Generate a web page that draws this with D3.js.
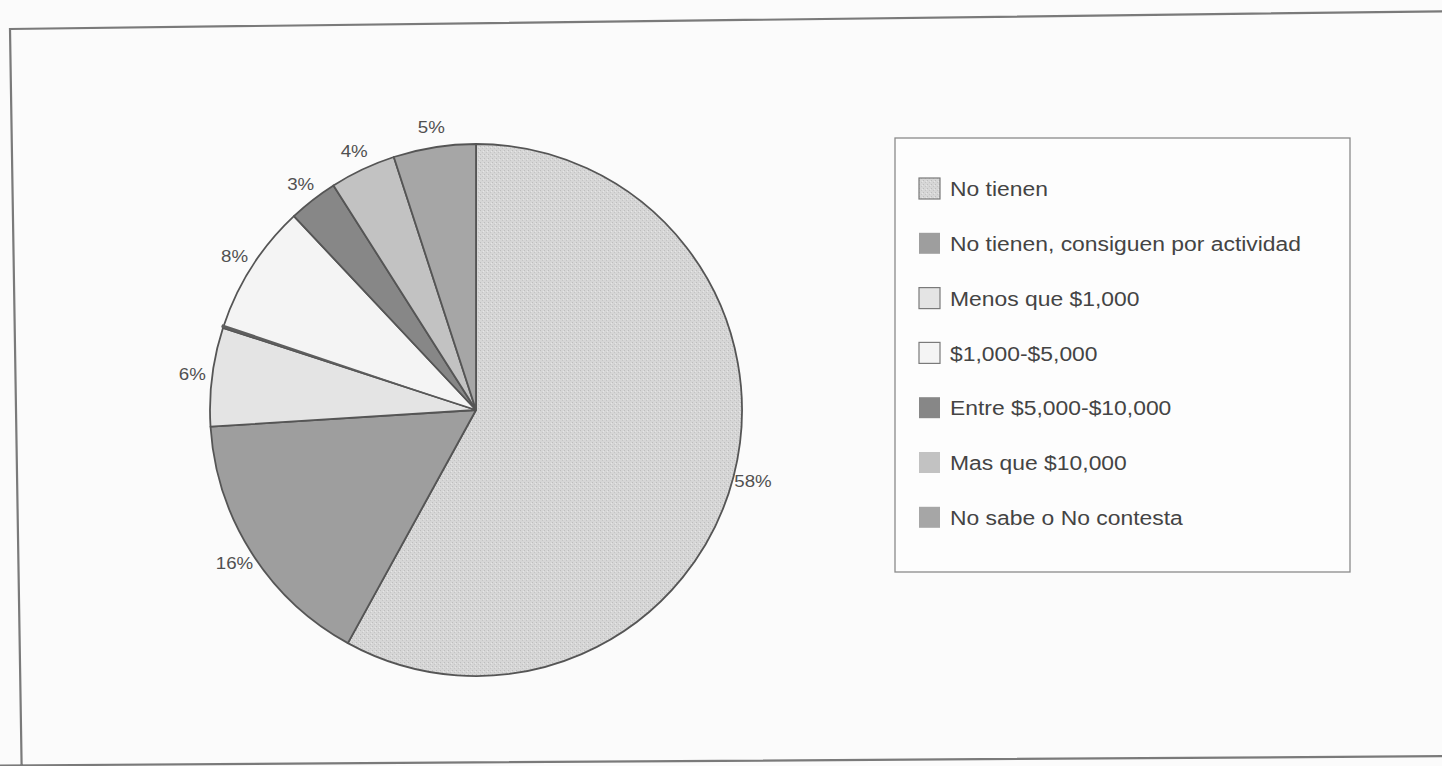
<!DOCTYPE html>
<html>
<head>
<meta charset="utf-8">
<script src="https://cdn.jsdelivr.net/npm/d3@7"></script>
<style>
  html, body { margin: 0; padding: 0; background: #fbfbfb; }
  svg { display: block; }
  text { font-family: "Liberation Sans", Arial, Helvetica, sans-serif; }
</style>
</head>
<body>
<svg id="chart" width="1442" height="766"></svg>
<script>
// Distribución de respuestas (porcentaje)
const categories = [
  "No tienen",
  "No tienen, consiguen por actividad",
  "Menos que $1,000",
  "$1,000-$5,000",
  "Entre $5,000-$10,000",
  "Mas que $10,000",
  "No sabe o No contesta"
];
const values = [58, 16, 6, 8, 3, 4, 5];
const percentLabels = ["58%", "16%", "6%", "8%", "3%", "4%", "5%"];
const fills = ["url(#stipple)", "#9e9e9e", "#e4e4e4", "#f4f4f4", "#878787", "#c2c2c2", "#a6a6a6"];

const svg = d3.select("#chart");

// Fill patterns
const defs = svg.append("defs");
const pat = defs.append("pattern")
  .attr("id", "stipple").attr("patternUnits", "userSpaceOnUse")
  .attr("width", 4).attr("height", 4);
pat.append("rect").attr("width", 4).attr("height", 4).attr("fill", "#d6d6d6");
pat.append("rect").attr("x", 0).attr("y", 0).attr("width", 1).attr("height", 1).attr("fill", "#bdbdbd");
pat.append("rect").attr("x", 2).attr("y", 2).attr("width", 1).attr("height", 1).attr("fill", "#c4c4c4");
pat.append("rect").attr("x", 3).attr("y", 1).attr("width", 1).attr("height", 1).attr("fill", "#e6e6e6");

// Outer frame (page is slightly skewed)
svg.append("path")
  .attr("d", "M1470,11 L10,29 L22,790 M0,765.5 L1470,756")
  .attr("fill", "none")
  .attr("stroke", "#7a7a7a")
  .attr("stroke-width", 2.2);

// Pie
const cx = 476, cy = 410, r = 266;
const pie = d3.pie().sort(null).value(d => d)(values);
const arc = d3.arc().innerRadius(0).outerRadius(r);
const labelArc = d3.arc().innerRadius(r + 20).outerRadius(r + 20);

const g = svg.append("g").attr("transform", `translate(${cx},${cy})`);

g.selectAll("path.slice")
  .data(pie)
  .join("path")
  .attr("class", "slice")
  .attr("d", arc)
  .attr("fill", (d, i) => fills[i])
  .attr("stroke", "#555")
  .attr("stroke-width", 1.8)
  .attr("stroke-linejoin", "round");

// Thin dark separator between "Menos que $1,000" and "$1,000-$5,000"
const sep = pie[2].endAngle;
g.append("path")
  .attr("d", d3.arc().innerRadius(0).outerRadius(r + 2)
    .startAngle(sep).endAngle(sep + 0.012)())
  .attr("fill", "#5e5e5e");

g.selectAll("text.pct")
  .data(pie)
  .join("text")
  .attr("class", "pct")
  .attr("transform", d => `translate(${labelArc.centroid(d)}) scale(1.1,1)`)
  .attr("text-anchor", "middle")
  .attr("dominant-baseline", "central")
  .attr("font-size", 17)
  .attr("fill", "#505050")
  .text((d, i) => percentLabels[i]);

// Legend
const lg = svg.append("g").attr("transform", "translate(895,138)");
lg.append("rect")
  .attr("width", 455).attr("height", 434)
  .attr("fill", "#fdfdfd")
  .attr("stroke", "#8a8a8a")
  .attr("stroke-width", 1.3);

const rows = lg.selectAll("g.item")
  .data(categories)
  .join("g")
  .attr("class", "item")
  .attr("transform", (d, i) => `translate(24,${50 + i * 54.8})`);

rows.append("rect")
  .attr("x", 0).attr("y", -10)
  .attr("width", 21).attr("height", 21)
  .attr("fill", (d, i) => fills[i])
  .attr("stroke", (d, i) => (i === 0 || i === 2 || i === 3) ? "#7a7a7a" : "none")
  .attr("stroke-width", 1.2);

rows.append("text")
  .attr("transform", "translate(31,1) scale(1.09,1)")
  .attr("dominant-baseline", "central")
  .attr("font-size", 21)
  .attr("fill", "#444")
  .text(d => d);
</script>
</body>
</html>
